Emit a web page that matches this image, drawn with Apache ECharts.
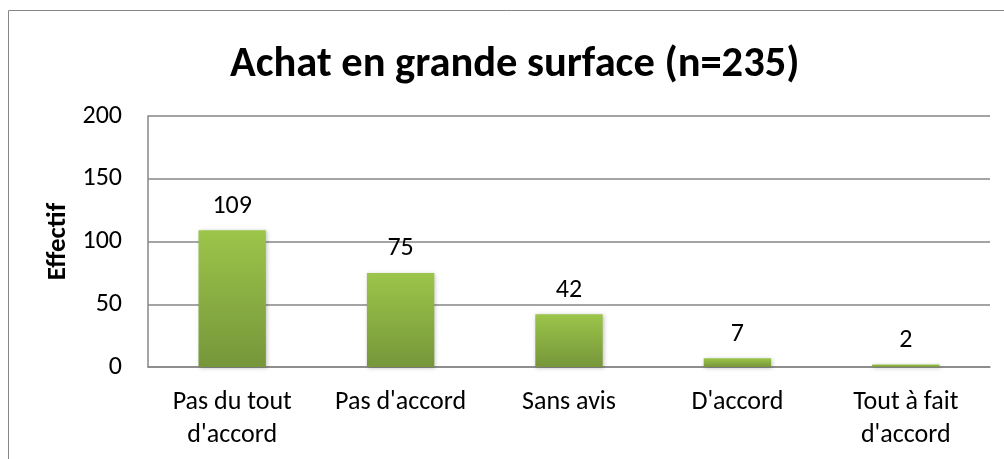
<!DOCTYPE html>
<html>
<head>
<meta charset="utf-8">
<script src="https://cdn.jsdelivr.net/npm/echarts@6/dist/echarts.min.js"></script>
<style>
html, body { margin: 0; padding: 0; background: #fff; }
#chart { width: 1004px; height: 459px; }
</style>
</head>
<body>
<div id="chart"></div>
<script>
var titleText = 'Achat en grande surface (n=235)';
var categories = ['Pas du tout\nd\'accord', 'Pas d\'accord', 'Sans avis', 'D\'accord', 'Tout à fait\nd\'accord'];
var effectifs = [109, 75, 42, 7, 2];
var yTicks = [0, 50, 100, 150, 200];

var font = 'Carlito, "Open Sans", "Liberation Sans", sans-serif';
var chart = echarts.init(document.getElementById('chart'));

chart.setOption({
    animation: false,
    graphic: [{
        type: 'rect',
        shape: { x: 8.5, y: 10.5, width: 1010, height: 470 },
        style: { fill: 'none', stroke: '#868686', lineWidth: 1 },
        silent: true
    }],
    title: {
        text: titleText,
        left: 225,
        top: 39,
        textStyle: { fontFamily: font, fontSize: 42.5, fontWeight: 'bold', color: '#000' }
    },
    grid: { left: 148, right: 14, top: 116, bottom: 92 },
    xAxis: {
        type: 'category',
        data: categories,
        axisLine: { lineStyle: { color: '#868686', width: 1.5 } },
        axisTick: { show: false },
        axisLabel: { fontFamily: font, fontSize: 26, color: '#000', margin: 19, lineHeight: 33, interval: 0 }
    },
    yAxis: {
        type: 'value',
        min: yTicks[0],
        max: yTicks[yTicks.length - 1],
        interval: 50,
        name: 'Effectif',
        nameLocation: 'middle',
        nameGap: 74,
        nameTextStyle: { fontFamily: font, fontSize: 27, fontWeight: 'bold', color: '#000' },
        axisLine: { show: true, lineStyle: { color: '#868686', width: 1.5 } },
        axisTick: { show: false },
        splitLine: { lineStyle: { color: '#868686', width: 1.5 } },
        axisLabel: { fontFamily: font, fontSize: 26, color: '#000', margin: 26 }
    },
    series: [{
        type: 'bar',
        data: effectifs,
        barCategoryGap: '60%',
        itemStyle: {
            color: new echarts.graphic.LinearGradient(0, 0, 0, 1, [
                { offset: 0, color: '#9cc54a' },
                { offset: 1, color: '#76963a' }
            ]),
            shadowColor: 'rgba(0,0,0,0.25)',
            shadowBlur: 4,
            shadowOffsetX: 1,
            shadowOffsetY: 1
        },
        label: {
            show: true,
            position: 'top',
            distance: 11,
            fontFamily: font,
            fontSize: 26,
            color: '#000'
        }
    }]
});
</script>
</body>
</html>
